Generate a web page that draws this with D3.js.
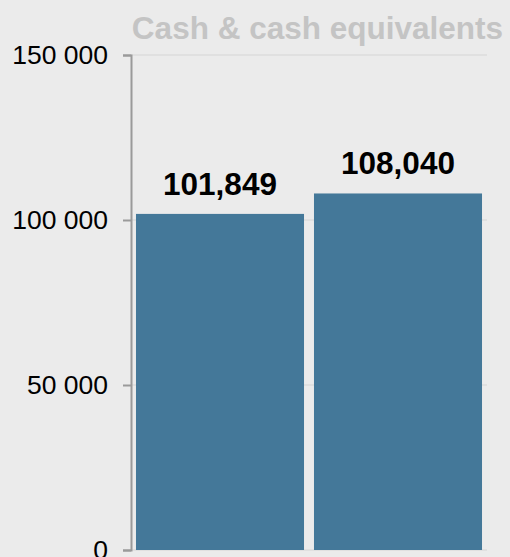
<!DOCTYPE html>
<meta charset="utf-8">
<style>
body { margin: 0; background-color: #ebebeb; }
svg { background-color: #ebebeb; font-family: "Liberation Sans", Arial, sans-serif; }
.axis path, .axis line { fill: none; stroke: #9a9a9a; stroke-width: 2; }
.grid line { stroke: #dcdcdc; stroke-width: 1.5; }
</style>
<script src="https://d3js.org/d3.v7.min.js"></script>
<body>
<script>
// data
var categories = ["2019", "2020"];
var values = [101849, 108040];
var tickValues = [0, 50000, 100000, 150000];
var title = "Cash & cash equivalents";

var width = 510, height = 557;

var svg = d3.select("body").append("svg")
    .attr("width", width)
    .attr("height", height);

var x = d3.scaleBand()
    .domain(categories)
    .range([131, 487])
    .paddingInner(0.056)
    .paddingOuter(0.028);

var y = d3.scaleLinear()
    .domain([0, 150000])
    .range([550, 55]);

// gridlines
svg.append("g")
    .attr("class", "grid")
  .selectAll("line")
    .data(tickValues)
  .enter().append("line")
    .attr("x1", 131)
    .attr("x2", 487)
    .attr("y1", function(d) { return y(d); })
    .attr("y2", function(d) { return y(d); });

// bars
svg.selectAll(".bar")
    .data(values)
  .enter().append("rect")
    .attr("class", "bar")
    .attr("x", function(d, i) { return x(categories[i]); })
    .attr("width", x.bandwidth())
    .attr("y", function(d) { return y(d); })
    .attr("height", function(d) { return y(0) - y(d); })
    .style("fill", "#447899");

// y axis
var yAxis = d3.axisLeft(y)
    .tickValues(tickValues)
    .tickSize(8)
    .tickPadding(15)
    .tickFormat(function(d) { return d3.format(",")(d).replace(/,/g, " "); });

var gy = svg.append("g")
    .attr("class", "axis")
    .attr("transform", "translate(131,0)")
    .call(yAxis);

gy.selectAll("text")
    .attr("font-family", "'Liberation Sans', Arial, sans-serif")
    .attr("font-size", "26.5px")
    .attr("fill", "#000");

// value labels
svg.selectAll(".label")
    .data(values)
  .enter().append("text")
    .attr("class", "label")
    .attr("x", function(d, i) { return x(categories[i]) + x.bandwidth() / 2; })
    .attr("y", function(d) { return y(d) - 19; })
    .attr("text-anchor", "middle")
    .attr("font-size", "31.5px")
    .attr("font-weight", "bold")
    .attr("fill", "#000")
    .text(function(d) { return d3.format(",")(d); });

// title
svg.append("text")
    .attr("x", 503)
    .attr("y", 38.5)
    .attr("text-anchor", "end")
    .attr("font-size", "31.5px")
    .attr("font-weight", "bold")
    .attr("fill", "#c4c4c4")
    .text(title);
</script>
